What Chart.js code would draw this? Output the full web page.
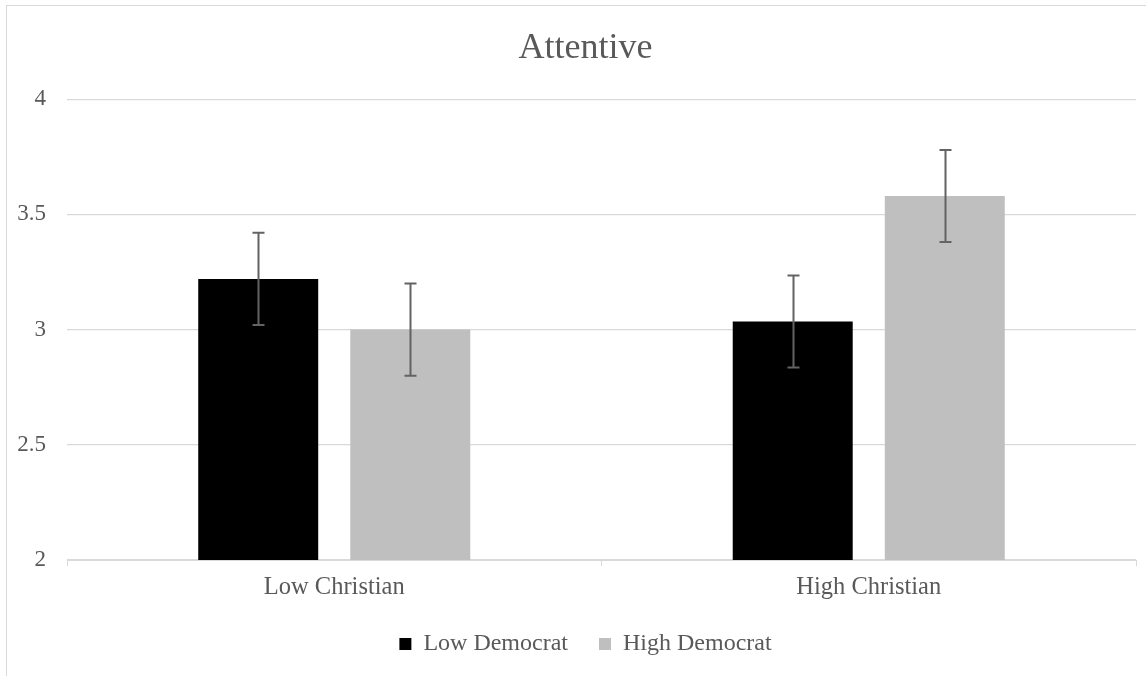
<!DOCTYPE html>
<html>
<head>
<meta charset="utf-8">
<script src="https://cdn.jsdelivr.net/npm/chart.js@4"></script>
<style>
  body { margin: 0; background: #fff; overflow: hidden; width: 1146px; height: 676px; }
  #frame { position: absolute; left: 6px; top: 5px; width: 1157px; height: 690px; border: 1px solid #d9d9d9; }
</style>
</head>
<body>
<div id="frame"><canvas id="attentive" width="1157" height="690"></canvas></div>
<script>
const categories = ['Low Christian', 'High Christian']
const lowDemocrat = [3.22, 3.035]
const highDemocrat = [3.0, 3.58]
const lowDemocratErr = [0.2, 0.2]
const highDemocratErr = [0.2, 0.2]
const yTicks = [2, 2.5, 3, 3.5, 4]

const serif = "'Liberation Serif', 'Times New Roman', serif"
const textColor = '#595959'
const gridColor = '#d9d9d9'

// draws the whiskers on top of each bar
const errorBars = {
  id: 'errorBars',
  afterDatasetsDraw (chart) {
    const ctx = chart.ctx
    const yScale = chart.scales.y
    chart.data.datasets.forEach((ds, i) => {
      const meta = chart.getDatasetMeta(i)
      meta.data.forEach((bar, j) => {
        const v = ds.data[j]
        const e = ds.errors[j]
        const top = yScale.getPixelForValue(v + e)
        const bottom = yScale.getPixelForValue(v - e)
        const x = Math.round(bar.x) + 0.5
        ctx.save()
        ctx.strokeStyle = '#636363'
        ctx.lineWidth = 2
        ctx.beginPath()
        ctx.moveTo(x, top)
        ctx.lineTo(x, bottom)
        ctx.moveTo(x - 6, top)
        ctx.lineTo(x + 6, top)
        ctx.moveTo(x - 6, bottom)
        ctx.lineTo(x + 6, bottom)
        ctx.stroke()
        ctx.restore()
      })
    })
  }
}

const config = {
  type: 'bar',
  data: {
    labels: categories,
    datasets: [{
      label: 'Low Democrat',
      data: lowDemocrat,
      errors: lowDemocratErr,
      backgroundColor: '#000000',
      categoryPercentage: 0.569,
      barPercentage: 0.789
    }, {
      label: 'High Democrat',
      data: highDemocrat,
      errors: highDemocratErr,
      backgroundColor: '#bfbfbf',
      categoryPercentage: 0.569,
      barPercentage: 0.789
    }]
  },
  options: {
    responsive: false,
    animation: false,
    devicePixelRatio: 1,
    layout: { padding: { left: 0, right: 0, top: 0, bottom: 30 } },
    plugins: {
      title: {
        display: true,
        text: 'Attentive',
        color: textColor,
        font: { family: serif, size: 36, weight: 'normal' },
        padding: { top: 21, bottom: 29 }
      },
      legend: {
        position: 'bottom',
        labels: {
          color: textColor,
          font: { family: serif, size: 24 },
          boxWidth: 12,
          boxHeight: 12,
          padding: 31
        }
      },
      tooltip: { enabled: false }
    },
    scales: {
      x: {
        grid: { offset: true, drawOnChartArea: false, tickLength: 6, color: gridColor },
        border: { color: gridColor },
        ticks: { color: textColor, font: { family: serif, size: 24.5 }, padding: 7 },
        afterFit: s => { s.height = 41 }
      },
      y: {
        min: 2,
        max: 4,
        afterBuildTicks: s => { s.ticks = yTicks.map(v => ({ value: v })) },
        grid: { color: gridColor, drawTicks: false, lineWidth: 1.3 },
        border: { display: false },
        ticks: {
          color: textColor,
          font: { family: serif, size: 23 },
          padding: 21,
          callback: v => String(v)
        },
        afterFit: s => { s.width = 60 }
      },
      // empty right-hand axis, only keeps the plot clear of the right edge
      spacer: {
        position: 'right',
        grid: { display: false },
        border: { display: false },
        ticks: { display: false },
        afterFit: s => { s.width = 28 }
      }
    }
  },
  plugins: [errorBars]
}

window.attentiveChart = new Chart(document.getElementById('attentive').getContext('2d'), config)
</script>
</body>
</html>
